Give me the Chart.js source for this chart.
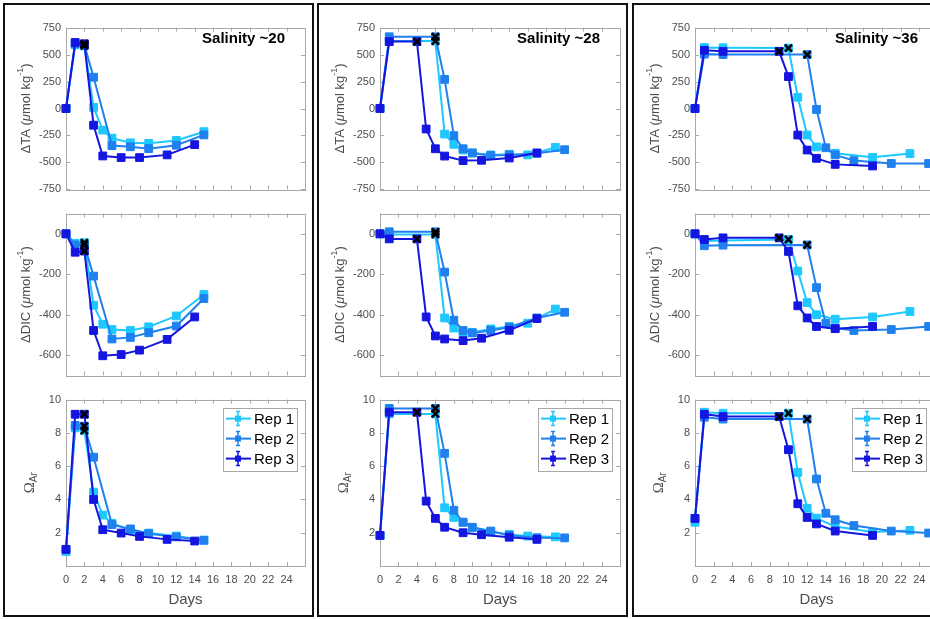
<!DOCTYPE html>
<html>
<head>
<meta charset="utf-8">
<script src="https://cdn.jsdelivr.net/npm/chart.js@4.4.1/dist/chart.umd.min.js"></script>
<style>
body { margin: 0; background: #fff; }
#fig { position: relative; width: 930px; height: 619px; overflow: hidden; background: #fff; }
.col { position: absolute; top: 3px; height: 614px; box-sizing: border-box; border: 2px solid #111; }
canvas { position: absolute; }
</style>
</head>
<body>
<div id="fig"></div>
<script>
const SALINITY_LABELS = ['Salinity ~20', 'Salinity ~28', 'Salinity ~36'];
const REP_LABELS = ['Rep 1', 'Rep 2', 'Rep 3'];
const REP_COLORS = ['#1ec8ff', '#1f80ee', '#1515e0'];

const DAY_TICKS = [0, 2, 4, 6, 8, 10, 12, 14, 16, 18, 20, 22, 24];
const TA_TICKS = [-750, -500, -250, 0, 250, 500, 750];
const DIC_TICKS = [-600, -400, -200, 0];
const OMEGA_TICKS = [2, 4, 6, 8, 10];

// salinity ~20, one list per replicate
const s20Days = [
    [0, 1, 2, 3, 4, 5, 7, 9, 12, 15],
    [0, 1, 2, 3, 5, 7, 9, 12, 15],
    [0, 1, 2, 3, 4, 6, 8, 11, 14]
];
const s20TA = [
    [0, 590, 580, 10, -200, -275, -318, -323, -296, -215],
    [0, 600, 590, 290, -344, -355, -372, -340, -245],
    [0, 612, 600, -155, -440, -455, -455, -430, -335]
];
const s20DIC = [
    [0, -47, -44, -353, -447, -473, -478, -460, -406, -300],
    [0, -55, -55, -209, -520, -512, -489, -456, -320],
    [0, -91, -85, -478, -603, -597, -575, -522, -411]
];
const s20Omega = [
    [0.87, 8.3, 8.14, 4.44, 3.06, 2.57, 2.14, 1.98, 1.8, 1.55],
    [1.0, 8.45, 8.4, 6.54, 2.49, 2.23, 1.94, 1.75, 1.55],
    [1.0, 9.12, 9.12, 4.0, 2.18, 1.98, 1.78, 1.6, 1.5]
];
const s20Start = [2, 2, 2];

// salinity ~28
const s28Days = [
    [0, 1, 6, 7, 8, 9, 10, 12, 14, 16, 19],
    [0, 1, 6, 7, 8, 9, 10, 12, 14, 17, 20],
    [0, 1, 4, 5, 6, 7, 9, 11, 14, 17]
];
const s28TA = [
    [0, 625, 625, -237, -332, -385, -412, -430, -424, -430, -361],
    [0, 665, 665, 270, -252, -373, -412, -436, -430, -415, -382],
    [0, 620, 620, -190, -373, -441, -483, -480, -459, -412]
];
const s28DIC = [
    [0, -3, -3, -416, -466, -486, -487, -470, -458, -442, -372],
    [0, 10, 10, -189, -427, -478, -490, -478, -462, -416, -388],
    [0, -25, -25, -411, -505, -520, -528, -516, -477, -419]
];
const s28Omega = [
    [1.84, 9.14, 9.14, 3.5, 2.92, 2.63, 2.3, 2.04, 1.9, 1.8, 1.75],
    [1.84, 9.47, 9.47, 6.77, 3.35, 2.63, 2.33, 2.1, 1.84, 1.7, 1.69],
    [1.84, 9.24, 9.24, 3.9, 2.86, 2.33, 2.0, 1.88, 1.73, 1.6]
];
const s28Start = [6, 6, 4];

// salinity ~36
const s36Days = [
    [0, 1, 3, 10, 11, 12, 13, 15, 19, 23],
    [0, 1, 3, 12, 13, 14, 15, 17, 21, 25],
    [0, 1, 3, 9, 10, 11, 12, 13, 15, 19]
];
const s36TA = [
    [0, 565, 563, 560, 104, -246, -356, -415, -453, -418],
    [0, 504, 500, 500, -9, -364, -430, -483, -510, -510],
    [0, 540, 530, 530, 296, -246, -385, -462, -518, -533]
];
const s36DIC = [
    [0, -36, -33, -28, -184, -340, -400, -422, -411, -384],
    [0, -59, -56, -55, -266, -442, -466, -478, -473, -458],
    [0, -28, -20, -20, -87, -356, -416, -458, -469, -458]
];
const s36Omega = [
    [2.63, 9.24, 9.18, 9.18, 5.62, 3.47, 2.88, 2.37, 2.04, 2.14],
    [2.86, 8.94, 8.83, 8.83, 5.23, 3.17, 2.78, 2.43, 2.1, 1.98],
    [2.86, 9.12, 8.98, 8.98, 6.99, 3.74, 2.92, 2.53, 2.1, 1.84]
];
const s36Start = [10, 12, 9];

const FONT = "'Liberation Sans', Arial, sans-serif";
const GREY = '#4d4d4d';
const FRAME = '#a8a8a8';

const columns = [
    { title: SALINITY_LABELS[0], days: s20Days, vars: [s20TA, s20DIC, s20Omega], start: s20Start, left: 66, width: 239, legendInset: 8 },
    { title: SALINITY_LABELS[1], days: s28Days, vars: [s28TA, s28DIC, s28Omega], start: s28Start, left: 380, width: 240, legendInset: 8 },
    { title: SALINITY_LABELS[2], days: s36Days, vars: [s36TA, s36DIC, s36Omega], start: s36Start, left: 695, width: 243, legendInset: 12 }
];

const rows = [
    { top: 24, height: 169, min: -750, max: 750, ticks: TA_TICKS,
      label: [{ t: '\u0394TA (' }, { t: '\u03bc', italic: true }, { t: 'mol kg' }, { t: '-1', sup: true }, { t: ')' }] },
    { top: 210, height: 169, min: -700, max: 100, ticks: DIC_TICKS,
      label: [{ t: '\u0394DIC (' }, { t: '\u03bc', italic: true }, { t: 'mol kg' }, { t: '-1', sup: true }, { t: ')' }] },
    { top: 396, height: 170, min: 0, max: 10, ticks: OMEGA_TICKS,
      label: [{ t: '\u03a9', serif: true }, { t: 'Ar', sub: true }] }
];

const Y_AXIS_W = 62;
const PAD_TOP = 8;

// MATLAB-like box with inward ticks
const framePlugin = {
    id: 'frame',
    beforeDatasetsDraw(chart, args, opts) {
        const { ctx, chartArea: a, scales } = chart;
        ctx.save();
        ctx.strokeStyle = FRAME;
        ctx.lineWidth = 1;
        ctx.strokeRect(Math.round(a.left) + 0.5, Math.round(a.top) + 0.5,
            Math.round(a.right - a.left), Math.round(a.bottom - a.top));
        ctx.beginPath();
        DAY_TICKS.forEach(v => {
            const x = Math.round(scales.x.getPixelForValue(v)) + 0.5;
            ctx.moveTo(x, a.bottom); ctx.lineTo(x, a.bottom - 4);
            ctx.moveTo(x, a.top); ctx.lineTo(x, a.top + 4);
        });
        opts.yTicks.forEach(v => {
            const y = Math.round(scales.y.getPixelForValue(v)) + 0.5;
            ctx.moveTo(a.left, y); ctx.lineTo(a.left + 4, y);
            ctx.moveTo(a.right, y); ctx.lineTo(a.right - 4, y);
        });
        ctx.stroke();
        ctx.restore();
    }
};

// rotated y label with super/subscripts
const yLabelPlugin = {
    id: 'yLabel',
    afterDraw(chart, args, opts) {
        const { ctx, chartArea: a } = chart;
        const fontOf = p => {
            const size = p.sup ? 9 : p.sub ? 10 : (p.serif ? 15 : 13);
            const fam = p.serif ? "'Liberation Serif', 'Times New Roman', serif" : FONT;
            return (p.italic ? 'italic ' : '') + size + 'px ' + fam;
        };
        let total = 0;
        opts.parts.forEach(p => { ctx.font = fontOf(p); total += ctx.measureText(p.t).width; });
        ctx.save();
        ctx.translate(a.left - opts.offset, (a.top + a.bottom) / 2);
        ctx.rotate(-Math.PI / 2);
        ctx.fillStyle = GREY;
        ctx.textBaseline = 'middle';
        let x = -total / 2;
        opts.parts.forEach(p => {
            ctx.font = fontOf(p);
            const dy = p.sup ? -5 : p.sub ? 4 : 0;
            ctx.fillText(p.t, x, dy);
            x += ctx.measureText(p.t).width;
        });
        ctx.restore();
    }
};

const titlePlugin = {
    id: 'panelTitle',
    afterDraw(chart, args, opts) {
        if (!opts.text) return;
        const { ctx, chartArea: a } = chart;
        ctx.save();
        ctx.font = 'bold 15px ' + FONT;
        ctx.fillStyle = '#000';
        ctx.textAlign = 'right';
        ctx.textBaseline = 'middle';
        ctx.fillText(opts.text, a.right - 20, a.top + 11);
        ctx.restore();
    }
};

const repLegendPlugin = {
    id: 'repLegend',
    afterDraw(chart, args, opts) {
        if (!opts.show) return;
        const { ctx, chartArea: a } = chart;
        const w = 74, h = 63;
        const left = a.right - opts.inset - w, top = a.top + 8;
        ctx.save();
        ctx.fillStyle = '#fff';
        ctx.fillRect(left, top, w, h);
        ctx.strokeStyle = FRAME;
        ctx.lineWidth = 1;
        ctx.strokeRect(Math.round(left) + 0.5, Math.round(top) + 0.5, w, h);
        REP_LABELS.forEach((lab, i) => {
            const y = top + 11 + i * 20;
            const cx = left + 15;
            ctx.strokeStyle = REP_COLORS[i];
            ctx.fillStyle = REP_COLORS[i];
            ctx.lineWidth = 2;
            ctx.beginPath();
            ctx.moveTo(left + 3, y); ctx.lineTo(left + 28, y);
            ctx.stroke();
            ctx.lineWidth = 1.5;
            ctx.beginPath();
            ctx.moveTo(cx, y - 7); ctx.lineTo(cx, y + 7);
            ctx.moveTo(cx - 2, y - 7); ctx.lineTo(cx + 2, y - 7);
            ctx.moveTo(cx - 2, y + 7); ctx.lineTo(cx + 2, y + 7);
            ctx.stroke();
            ctx.fillRect(cx - 3, y - 3, 6, 6);
            ctx.fillStyle = '#000';
            ctx.font = '15px ' + FONT;
            ctx.textBaseline = 'middle';
            ctx.fillText(lab, left + 31, y + 1);
        });
        ctx.restore();
    }
};

const fig = document.getElementById('fig');
[[3, 311], [317, 311], [632, 320]].forEach(([l, w]) => {
    const d = document.createElement('div');
    d.className = 'col';
    d.style.left = l + 'px';
    d.style.width = w + 'px';
    fig.appendChild(d);
});

columns.forEach(col => {
    rows.forEach((row, r) => {
        const last = r === 2;
        const cv = document.createElement('canvas');
        const bottomH = last ? 44 : 8;
        cv.width = Y_AXIS_W + col.width + 10;
        cv.height = PAD_TOP + row.height + bottomH;
        cv.style.left = (col.left - Y_AXIS_W) + 'px';
        cv.style.top = (row.top - PAD_TOP) + 'px';
        fig.appendChild(cv);

        const series = col.vars[r];
        const datasets = series.map((vals, i) => ({
            label: REP_LABELS[i],
            data: col.days[i].map((d, k) => ({ x: d, y: vals[k] })),
            borderColor: REP_COLORS[i],
            backgroundColor: REP_COLORS[i],
            borderWidth: 2,
            pointStyle: 'rect',
            pointRadius: 5.5,
            pointBorderWidth: 1,
            clip: false,
            order: 3 - i
        }));
        // onset markers, looked up from each replicate's own series
        datasets.push({
            label: 'onset',
            data: col.start.map((d, i) => ({ x: d, y: series[i][col.days[i].indexOf(d)] })),
            showLine: false,
            pointStyle: 'crossRot',
            pointRadius: 5,
            pointBorderColor: '#000',
            pointBackgroundColor: '#000',
            pointBorderWidth: 2.5,
            borderColor: '#000',
            clip: false,
            order: 0
        });

        new Chart(cv, {
            type: 'line',
            data: { datasets },
            options: {
                responsive: false,
                devicePixelRatio: 1,
                animation: false,
                events: [],
                layout: { padding: { top: PAD_TOP, right: 10, bottom: last ? 0 : 8, left: 0 } },
                scales: {
                    x: {
                        type: 'linear', min: 0, max: 26,
                        afterBuildTicks: s => { s.ticks = DAY_TICKS.map(v => ({ value: v })); },
                        afterFit: s => { s.height = last ? 44 : 0; },
                        grid: { display: false, drawTicks: false },
                        border: { display: false },
                        ticks: { display: last, color: GREY, font: { family: FONT, size: 11 }, padding: 7, maxRotation: 0, autoSkip: false },
                        title: { display: last, text: 'Days', color: GREY, font: { family: FONT, size: 15 }, padding: { top: 0, bottom: 1 } }
                    },
                    y: {
                        type: 'linear', min: row.min, max: row.max,
                        afterBuildTicks: s => { s.ticks = row.ticks.map(v => ({ value: v })); },
                        afterFit: s => { s.width = Y_AXIS_W; },
                        grid: { display: false, drawTicks: false },
                        border: { display: false },
                        ticks: { color: GREY, font: { family: FONT, size: 11 }, padding: 5 }
                    }
                },
                plugins: {
                    legend: { display: false },
                    tooltip: { enabled: false },
                    frame: { yTicks: row.ticks },
                    yLabel: { parts: row.label, offset: last ? 36 : 40 },
                    panelTitle: { text: r === 0 ? col.title : '' },
                    repLegend: { show: last, inset: col.legendInset }
                }
            },
            plugins: [framePlugin, yLabelPlugin, titlePlugin, repLegendPlugin]
        });
    });
});
</script>
</body>
</html>
